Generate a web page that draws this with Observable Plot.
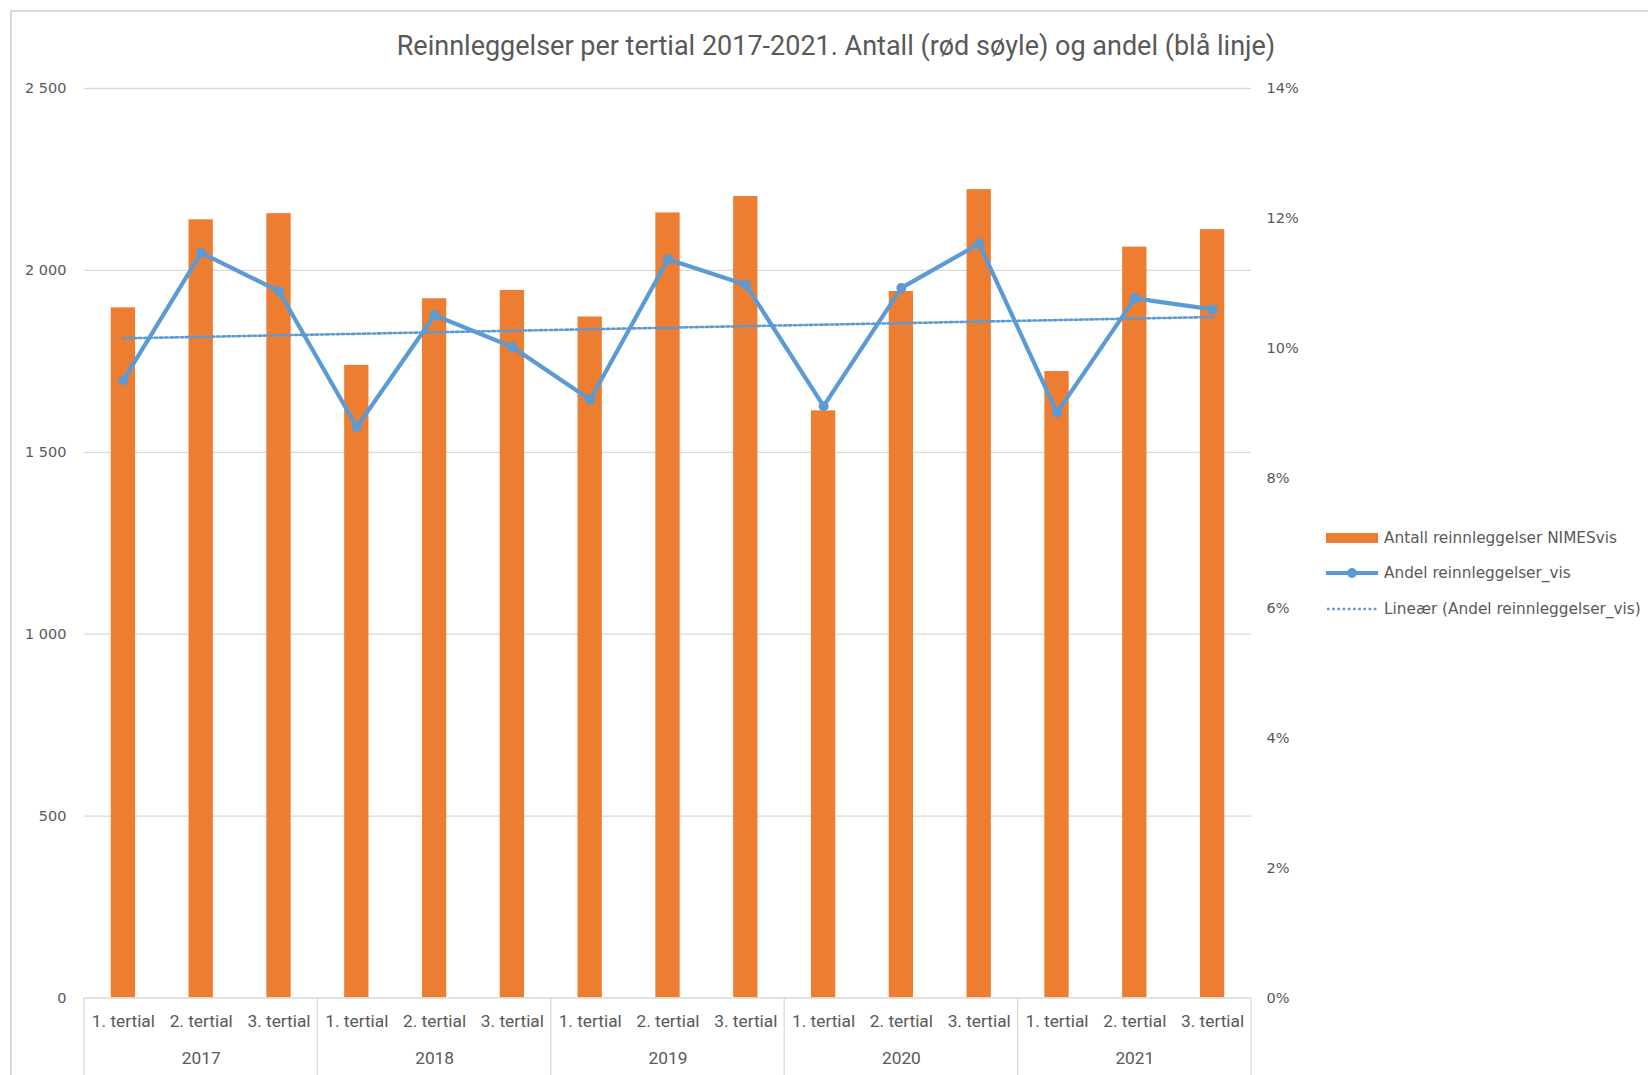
<!DOCTYPE html>
<html>
<head>
<meta charset="utf-8">
<script src="https://cdn.jsdelivr.net/npm/d3@7"></script>
<script src="https://cdn.jsdelivr.net/npm/@observablehq/plot@0.6"></script>
<style>
  html, body { margin: 0; padding: 0; background: #fff; }
  #wrap { position: relative; width: 1648px; height: 1075px; overflow: hidden; background: #fff; }
  #frame { position: absolute; left: 10px; top: 10px; width: 1700px; height: 1100px;
           border-top: 2px solid #d9d9d9; border-left: 2px solid #d9d9d9; box-sizing: border-box; }
  #chart { position: absolute; left: 0; top: 0; }
  #title { position: absolute; left: 0; width: 1672px; top: 30px; text-align: center;
           font-family: "Liberation Sans Narrow", "Arial Narrow", "Roboto", sans-serif; font-size: 27px; color: #595959; }
  .leg { position: absolute; left: 1326px; height: 20px; display: flex; align-items: center;
         font-family: "DejaVu Sans", sans-serif; font-size: 15.3px; color: #595959; white-space: nowrap; }
  .leg svg { margin-right: 6px; }
</style>
</head>
<body>
<div id="wrap">
  <div id="frame"></div>
  <div id="chart"></div>
  <div id="title">Reinnleggelser per tertial 2017-2021. Antall (rød søyle) og andel (blå linje)</div>
  <div id="legend"></div>
</div>
<script>
// ---- data ----
const years = [2017, 2018, 2019, 2020, 2021];
const tertials = ["1. tertial", "2. tertial", "3. tertial"];
const antall = [1897, 2139, 2156, 1739, 1922, 1945, 1872, 2158, 2203, 1614, 1942, 2222, 1722, 2064, 2112];
const andel = [9.51, 11.47, 10.88, 8.79, 10.51, 10.02, 9.21, 11.37, 10.98, 9.11, 10.93, 11.61, 9.01, 10.77, 10.60];
const leftTicks = [0, 500, 1000, 1500, 2000, 2500];
const rightTicks = [0, 2, 4, 6, 8, 10, 12, 14];
const seriesNames = ["Antall reinnleggelser NIMESvis", "Andel reinnleggelser_vis", "Lineær (Andel reinnleggelser_vis)"];

const orange = "#ED7D31", blue = "#5B9BD5", grid = "#d9d9d9", textGray = "#595959";
const yMax = 2500, pMax = 14;
const K = yMax / pMax; // maps percent onto the count axis

const keys = years.flatMap(y => tertials.map(t => `${y}|${t}`));
const data = keys.map((k, i) => ({key: k, year: k.split("|")[0], tertial: k.split("|")[1], antall: antall[i], andel: andel[i]}));

// linear trend (least squares) of andel
const n = andel.length;
const mx = (n - 1) / 2, my = d3.mean(andel);
const slope = d3.sum(andel, (v, i) => (i - mx) * (v - my)) / d3.sum(andel, (v, i) => (i - mx) ** 2);
const trend = data.map((d, i) => ({key: d.key, trend: my + slope * (i - mx)}));

const axisFont = "DejaVu Sans, sans-serif";
const narrowFont = "Liberation Sans Narrow, Arial Narrow, Roboto, sans-serif";

function separators(index, scales, values, dimensions) {
  const x = scales.x, y = scales.y;
  const step = x(keys[1]) - x(keys[0]);
  const bw = x.bandwidth ? x.bandwidth() : 0;
  const y0 = y(0);
  const g = d3.create("svg:g").attr("stroke", grid).attr("stroke-width", 1.3);
  const bounds = years.map(yr => x(`${yr}|${tertials[0]}`) + bw / 2 - step / 2);
  bounds.push(x(keys[keys.length - 1]) + bw / 2 + step / 2);
  for (const b of bounds) {
    g.append("line").attr("x1", b).attr("x2", b).attr("y1", y0).attr("y2", dimensions.height);
  }
  return g.node();
}

const chart = Plot.plot({
  width: 1648,
  height: 1075,
  marginLeft: 84,
  marginRight: 397,
  marginTop: 88,
  marginBottom: 77.5,
  style: {background: "transparent", color: textGray, fontFamily: axisFont, fontSize: "14.5px"},
  x: {domain: keys, paddingInner: 0.6875, paddingOuter: 0.34375, round: false},
  y: {domain: [0, yMax]},
  marks: [
    Plot.gridY({ticks: leftTicks.filter(t => t > 0), stroke: grid, strokeOpacity: 1, strokeWidth: 1.3}),
    Plot.barY(data, {x: "key", y: "antall", fill: orange}),
    Plot.ruleY([0], {stroke: grid, strokeWidth: 1.3}),
    separators,
    Plot.axisY({anchor: "left", ticks: leftTicks, tickSize: 0, tickPadding: 18, label: null,
      tickFormat: d => d3.format(",")(d).replace(/,/g, " "), fontFamily: axisFont, fontSize: 14.5}),
    Plot.axisY({anchor: "right", ticks: rightTicks.map(p => p * K), tickSize: 0, tickPadding: 15, label: null,
      tickFormat: v => Math.round(v / K) + "%", fontFamily: axisFont, fontSize: 14.5}),
    Plot.axisX({tickSize: 0, tickPadding: 17, label: null, tickFormat: k => k.split("|")[1],
      fontFamily: narrowFont, fontSize: 17.3}),
    Plot.axisX({ticks: years.map(y => `${y}|${tertials[1]}`), tickSize: 0, tickPadding: 54, label: null,
      tickFormat: k => k.split("|")[0], fontFamily: narrowFont, fontSize: 17.3}),
    Plot.line(trend, {x: "key", y: d => d.trend * K, stroke: blue, strokeWidth: 2.6, strokeDasharray: "2.6,2.6"}),
    Plot.line(data, {x: "key", y: d => d.andel * K, stroke: blue, strokeWidth: 4.2}),
    Plot.dot(data, {x: "key", y: d => d.andel * K, r: 5, fill: blue, stroke: "none"})
  ]
});
document.getElementById("chart").appendChild(chart);

// legend
const legend = document.getElementById("legend");
const rowsY = [528, 563, 599];
seriesNames.forEach((name, i) => {
  const row = document.createElement("div");
  row.className = "leg";
  row.style.top = rowsY[i] + "px";
  let sw;
  if (i === 0) sw = `<svg width="52" height="20"><rect x="0" y="5" width="52" height="10" fill="${orange}"/></svg>`;
  else if (i === 1) sw = `<svg width="52" height="20"><line x1="0" x2="52" y1="10" y2="10" stroke="${blue}" stroke-width="4"/><circle cx="26" cy="10" r="5" fill="${blue}"/></svg>`;
  else sw = `<svg width="52" height="20"><line x1="1" x2="52" y1="10" y2="10" stroke="${blue}" stroke-width="2.6" stroke-dasharray="2.6,2.6"/></svg>`;
  row.innerHTML = sw + `<span>${name}</span>`;
  legend.appendChild(row);
});
</script>
</body>
</html>
